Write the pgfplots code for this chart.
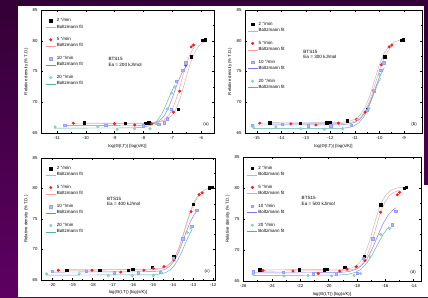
\documentclass[border=0pt]{standalone}
\usepackage{fontspec}
\setmainfont{Liberation Sans}
\usepackage{pgfplots}
\pgfplotsset{compat=1.18}
\definecolor{bgtop}{HTML}{330036}
\definecolor{bgbot}{HTML}{5E0062}
\definecolor{cred}{HTML}{FF1A1A}
\definecolor{credl}{HTML}{FF9A9A}
\definecolor{cblue}{HTML}{9A9AFF}
\definecolor{cbluel}{HTML}{7A7AEE}
\definecolor{cteal}{HTML}{A8DCD4}
\definecolor{ctealk}{HTML}{7CC4BA}
\definecolor{ctealf}{HTML}{5AAFA4}
\newcommand{\fs}{\fontsize{4.3}{5}\selectfont}
\newcommand{\spacer}{\addlegendimage{empty legend}\addlegendentry{\phantom{B}}}
\pgfplotsset{
 msc/.style={
  scale only axis,
  ymin=65, ymax=85, ytick={65,70,75,80,85},
  minor x tick num=1, minor y tick num=1,
  tick align=inside,
  major tick length=2pt, minor tick length=1.2pt,
  every tick/.style={black, line width=0.3pt},
  axis line style={line width=0.4pt},
  tick label style={font=\fs},
  /pgf/number format/assume math mode=true,
  label style={font=\fs},
  xlabel={log(Θ(t,T)) [log(s/K)]},
  ylabel={Relative density (\% T.D.)},
  xlabel style={at={(axis description cs:0.5,-0.105)}, anchor=center},
  ylabel style={at={(axis description cs:-0.085,0.5)}, anchor=center},
  legend style={anchor=north west, draw=none, fill=none,
    font=\fontsize{4.5}{5}\selectfont, row sep=0pt, inner sep=0pt,
    nodes={inner sep=0.8pt}},
  legend cell align=left,
  legend image code/.code={\draw[mark repeat=2,mark phase=2,#1] plot coordinates {(0pt,0pt) (5pt,0pt) (10pt,0pt)};},
 },
 pk/.style={only marks, mark=square*, mark size=1.2pt, black},
 pr/.style={only marks, mark=*, mark size=1.3pt, cred},
 pb/.style={only marks, mark=square*, mark size=1.2pt, draw=cblue, fill=cblue!70!white},
 pt/.style={only marks, mark=*, mark size=1.3pt, draw=ctealk, fill=cteal},
 fk/.style={no marks, gray!55, line width=0.45pt},
 fr/.style={no marks, credl, line width=0.45pt},
 fb/.style={no marks, cbluel, line width=0.45pt},
 ft/.style={no marks, ctealf, line width=0.45pt},
}
\begin{document}
\begin{tikzpicture}[x=1pt,y=1pt]
\useasboundingbox (0,0) rectangle (428,297);
\shade[top color=bgtop, bottom color=bgbot] (0,0) rectangle (428,297);
\fill[white] (18,0) rectangle (424,291);
\fill[white] (424,0) rectangle (428,112);

% ---------------- (a) ----------------
\begin{axis}[msc, at={(41pt,164pt)}, anchor=south west, width=173pt, height=123pt,
  xmin=-11.55, xmax=-5.55, xtick={-11,-10,...,-6},
  legend style={at={(axis description cs:0.025,0.94)}}]
\addplot[pk] coordinates {(-10.06,66.7) (-8.62,66.6) (-7.94,66.6) (-7.81,66.7) (-6.79,68.9) (-6.34,77.4) (-5.94,80.1) (-5.86,80.2)};
\addlegendentry{2 °/min}
\addplot[fk] coordinates {(-10.1,66.6) (-8.0,66.6) (-7.5,66.72) (-7.2,67.11) (-7.0,67.91) (-6.9,68.63) (-6.8,69.65) (-6.7,71.0) (-6.6,72.6) (-6.5,74.3) (-6.4,75.91) (-6.3,77.25) (-6.2,78.27) (-6.1,79.0) (-6.0,79.48) (-5.85,79.9)};
\addlegendentry{Boltzmann fit}
\spacer
\addplot[pr] coordinates {(-10.43,66.6) (-9.0,66.5) (-8.3,66.3) (-7.71,66.5) (-6.96,68.4) (-6.74,71.8) (-6.53,76.0) (-6.34,79.0) (-6.26,79.3)};
\addlegendentry{5 °/min}
\addplot[fr] coordinates {(-10.45,66.5) (-7.9,66.52) (-7.6,66.64) (-7.3,67.09) (-7.1,68.0) (-7.0,68.82) (-6.9,69.95) (-6.8,71.39) (-6.7,73.06) (-6.6,74.77) (-6.5,76.31) (-6.4,77.57) (-6.3,78.51) (-6.25,78.85)};
\addlegendentry{Boltzmann fit}
\spacer
\addplot[pb] coordinates {(-10.73,66.3) (-9.3,66.3) (-8.0,66.2) (-7.47,66.4) (-7.28,66.7) (-7.17,67.3) (-7.04,68.9) (-6.86,73.4) (-6.64,75.2) (-6.53,76.4)};
\addlegendentry{10 °/min}
\addplot[fb] coordinates {(-10.75,66.2) (-8.2,66.22) (-7.85,66.31) (-7.55,66.66) (-7.35,67.38) (-7.25,68.01) (-7.15,68.9) (-7.05,70.02) (-6.95,71.33) (-6.85,72.67) (-6.75,73.88) (-6.65,74.86) (-6.55,75.6) (-6.5,75.85)};
\addlegendentry{Boltzmann fit}
\spacer
\addplot[pt] coordinates {(-11.06,66.0) (-9.58,66.0) (-8.91,65.6) (-8.30,65.7) (-7.77,65.7) (-7.56,66.5) (-7.17,68.9) (-7.02,71.5) (-6.92,72.5)};
\addlegendentry{20 °/min}
\addplot[ft] coordinates {(-11.1,65.8) (-8.4,65.82) (-8.07,65.89) (-7.77,66.19) (-7.57,66.78) (-7.47,67.31) (-7.37,68.05) (-7.27,68.99) (-7.17,70.08) (-7.07,71.19) (-6.97,72.2) (-6.9,72.8)};
\addlegendentry{Boltzmann fit}
\node[font=\fontsize{4.6}{5.6}\selectfont, anchor=west, align=left] at (axis description cs:0.37,0.58) {BTS15\\Ea = 200 kJ/mol};
\node[font=\fs, anchor=south east] at (axis description cs:0.99,0.025) {(a)};
\end{axis}

% ---------------- (b) ----------------
\begin{axis}[msc, at={(245pt,164pt)}, anchor=south west, width=177pt, height=123pt,
  xmin=-15.48, xmax=-8.26, xtick={-15,-14,...,-9},
  legend style={at={(axis description cs:0.012,0.91)}}]
\addplot[pk] coordinates {(-14.47,66.7) (-13.23,66.6) (-12.16,66.7) (-12.02,66.7) (-11.3,67.0) (-10.49,68.9) (-9.78,77.4) (-9.12,80.1) (-9.03,80.2)};
\addlegendentry{2 °/min}
\addplot[fk] coordinates {(-14.5,66.7) (-11.6,66.72) (-11.2,66.94) (-11.0,67.23) (-10.8,67.83) (-10.6,68.98) (-10.4,70.92) (-10.2,73.5) (-10.0,76.08) (-9.8,78.02) (-9.6,79.17) (-9.4,79.77) (-9.2,80.06) (-9.0,80.19)};
\addlegendentry{Boltzmann fit}
\spacer
\addplot[pr] coordinates {(-14.88,66.6) (-13.61,66.5) (-12.59,66.3) (-11.67,66.6) (-10.93,67.2) (-10.58,68.4) (-10.24,71.9) (-9.91,76.1) (-9.6,79.0) (-9.49,79.3)};
\addlegendentry{5 °/min}
\addplot[fr] coordinates {(-14.9,66.5) (-11.55,66.52) (-11.15,66.74) (-10.95,67.03) (-10.75,67.62) (-10.55,68.77) (-10.35,70.69) (-10.15,73.25) (-9.95,75.82) (-9.75,77.73) (-9.55,78.88) (-9.45,79.2)};
\addlegendentry{Boltzmann fit}
\spacer
\addplot[pb] coordinates {(-15.18,66.3) (-13.96,66.4) (-12.9,66.2) (-11.98,66.2) (-11.16,66.3) (-10.49,68.7) (-10.21,71.9) (-9.94,75.2) (-9.82,76.4)};
\addlegendentry{10 °/min}
\addplot[fb] coordinates {(-15.2,66.3) (-11.6,66.32) (-11.2,66.5) (-11.0,66.74) (-10.8,67.23) (-10.6,68.18) (-10.4,69.77) (-10.2,71.9) (-10.0,74.03) (-9.8,75.62)};
\addlegendentry{Boltzmann fit}
\spacer
\addplot[pt] coordinates {(-15.14,66.0) (-14.22,66.0) (-13.2,65.7) (-12.25,65.6) (-11.5,65.7) (-11.16,66.3) (-10.89,67.2) (-10.43,69.0) (-10.22,71.9) (-9.99,74.5)};
\addlegendentry{20 °/min}
\addplot[ft] coordinates {(-15.15,65.7) (-11.65,65.72) (-11.25,65.89) (-11.05,66.12) (-10.85,66.6) (-10.65,67.51) (-10.45,69.05) (-10.25,71.1) (-10.05,73.15) (-9.95,73.9)};
\addlegendentry{Boltzmann fit}
\node[font=\fontsize{4.6}{5.6}\selectfont, anchor=west, align=left] at (axis description cs:0.31,0.64) {BTS15\\Ea = 300 kJ/mol};
\node[font=\fs, anchor=south east] at (axis description cs:0.99,0.025) {(b)};
\end{axis}

% ---------------- (c) ----------------
\begin{axis}[msc, at={(41pt,17pt)}, anchor=south west, width=174pt, height=122pt,
  xmin=-20.57, xmax=-11.91, xtick={-20,-19,...,-12},
  legend style={at={(axis description cs:0.025,0.94)}}]
\addplot[pk] coordinates {(-19.29,66.64) (-17.64,66.6) (-16.23,66.6) (-16.01,66.8) (-15.03,67.1) (-13.96,68.8) (-13.0,77.4) (-12.2,80.1) (-12.08,80.2)};
\addlegendentry{2 °/min}
\addplot[fk] coordinates {(-19.3,66.7) (-15.0,66.77) (-14.6,66.94) (-14.3,67.34) (-14.1,67.91) (-13.9,68.86) (-13.7,70.36) (-13.5,72.37) (-13.3,74.63) (-13.1,76.64) (-12.9,78.14) (-12.7,79.09) (-12.5,79.66) (-12.3,79.96) (-12.1,80.12)};
\addlegendentry{Boltzmann fit}
\spacer
\addplot[pr] coordinates {(-19.71,66.6) (-18.03,66.6) (-16.6,66.3) (-15.45,66.6) (-14.98,66.9) (-14.45,67.2) (-13.96,68.3) (-13.54,71.7) (-13.1,76.2) (-12.7,79.0) (-12.55,79.3)};
\addlegendentry{5 °/min}
\addplot[fr] coordinates {(-19.7,66.6) (-15.0,66.67) (-14.6,66.84) (-14.3,67.23) (-14.1,67.79) (-13.9,68.73) (-13.7,70.2) (-13.5,72.19) (-13.3,74.41) (-13.1,76.4) (-12.9,77.87) (-12.7,78.81) (-12.5,79.37)};
\addlegendentry{Boltzmann fit}
\spacer
\addplot[pb] coordinates {(-20.0,66.4) (-18.33,66.4) (-16.92,66.2) (-15.73,66.2) (-14.65,66.3) (-13.99,68.6) (-13.52,71.8) (-13.07,73.8) (-12.83,76.4)};
\addlegendentry{10 °/min}
\addplot[fb] coordinates {(-20.0,66.3) (-15.05,66.36) (-14.65,66.5) (-14.35,66.83) (-14.15,67.3) (-13.95,68.08) (-13.75,69.31) (-13.55,70.97) (-13.35,72.83) (-13.15,74.49) (-12.95,75.72) (-12.8,76.3)};
\addlegendentry{Boltzmann fit}
\spacer
\addplot[pt] coordinates {(-20.29,66.0) (-18.67,66.0) (-17.22,65.7) (-16.03,65.7) (-14.98,65.7) (-14.57,66.2) (-13.96,68.6) (-13.29,72.8) (-13.11,73.5)};
\addlegendentry{20 °/min}
\addplot[ft] coordinates {(-20.3,65.8) (-15.05,65.85) (-14.65,65.97) (-14.35,66.24) (-14.15,66.64) (-13.95,67.29) (-13.75,68.33) (-13.55,69.72) (-13.35,71.28) (-13.15,72.67) (-13.05,73.3)};
\addlegendentry{Boltzmann fit}
\node[font=\fontsize{4.6}{5.6}\selectfont, anchor=west, align=left] at (axis description cs:0.36,0.645) {BTS15\\Ea = 400 kJ/mol};
\node[font=\fs, anchor=south east] at (axis description cs:0.99,0.025) {(c)};
\end{axis}

% ---------------- (d) ----------------
\begin{axis}[msc, at={(243pt,16pt)}, anchor=south west, width=178pt, height=124pt,
  xmin=-26.02, xmax=-13.48, xtick={-26,-24,...,-14},
  legend style={at={(axis description cs:0.022,0.935)}}]
\addplot[pk] coordinates {(-24.85,66.8) (-22.08,66.8) (-20.32,66.8) (-20.08,66.9) (-18.86,67.2) (-17.5,69.0) (-16.32,77.3) (-14.68,80.0) (-14.52,80.1)};
\addlegendentry{2 °/min}
\addplot[fk] coordinates {(-24.9,66.8) (-19.0,66.86) (-18.4,67.07) (-18.0,67.51) (-17.7,68.23) (-17.4,69.51) (-17.1,71.48) (-16.8,73.92) (-16.5,76.26) (-16.2,78.0) (-15.9,79.06) (-15.6,79.64) (-15.2,79.99) (-14.8,80.12) (-14.5,80.17)};
\addlegendentry{Boltzmann fit}
\spacer
\addplot[pr] coordinates {(-24.61,66.7) (-22.5,66.6) (-20.72,66.2) (-19.21,66.6) (-18.68,66.9) (-18.04,67.3) (-17.43,68.3) (-16.87,71.7) (-16.33,76.1) (-15.15,78.9) (-14.99,79.3)};
\addlegendentry{5 °/min}
\addplot[fr] coordinates {(-24.6,66.6) (-18.85,66.66) (-18.25,66.86) (-17.85,67.3) (-17.55,68.01) (-17.25,69.27) (-16.95,71.21) (-16.65,73.61) (-16.35,75.92) (-16.05,77.62) (-15.75,78.68) (-15.45,79.25) (-15.0,79.6)};
\addlegendentry{Boltzmann fit}
\spacer
\addplot[pb] coordinates {(-25.3,66.5) (-23.18,66.4) (-21.07,66.2) (-19.45,66.2) (-17.99,66.3) (-17.55,68.7) (-16.87,71.8) (-15.5,74.1) (-15.27,76.3)};
\addlegendentry{10 °/min}
\addplot[fb] coordinates {(-25.3,66.3) (-19.29,66.35) (-18.54,66.52) (-18.04,66.89) (-17.66,67.5) (-17.29,68.56) (-16.91,70.21) (-16.54,72.25) (-16.16,74.21) (-15.79,75.65) (-15.41,76.55) (-15.25,76.8)};
\addlegendentry{Boltzmann fit}
\spacer
\addplot[pt] coordinates {(-25.3,66.1) (-23.13,65.8) (-21.44,65.9) (-19.77,65.8) (-18.2,65.9) (-17.73,66.2) (-17.08,68.9) (-16.32,72.5) (-15.69,73.5)};
\addlegendentry{20 °/min}
\addplot[ft] coordinates {(-25.3,65.9) (-19.4,65.94) (-18.62,66.09) (-18.1,66.4) (-17.71,66.91) (-17.32,67.8) (-16.93,69.18) (-16.54,70.89) (-16.14,72.54) (-15.75,73.75)};
\addlegendentry{Boltzmann fit}
\node[font=\fontsize{4.6}{5.6}\selectfont, anchor=west, align=left] at (axis description cs:0.31,0.648) {BTS15\\Ea = 500 kJ/mol};
\node[font=\fs, anchor=south east] at (axis description cs:0.99,0.025) {(d)};
\end{axis}
\end{tikzpicture}
\end{document}
